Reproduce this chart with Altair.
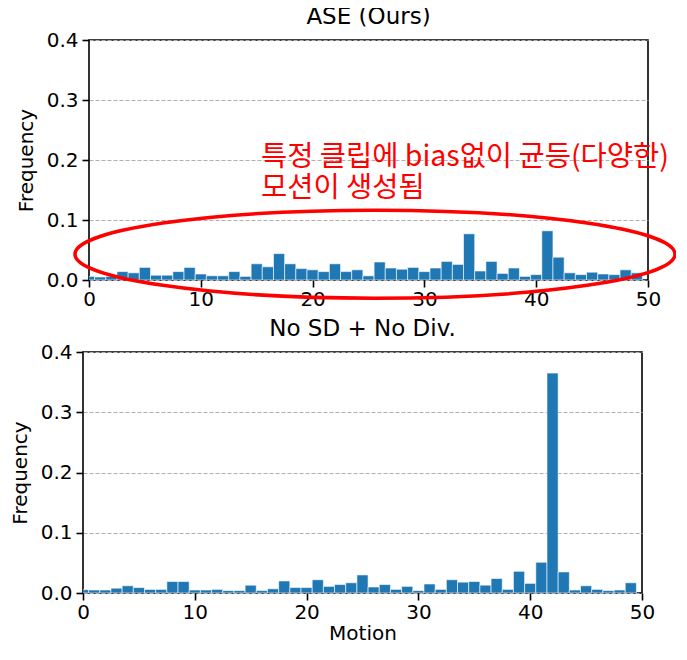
import altair as alt
import pandas as pd

# ---------------- data ----------------
motions = list(range(50))
ase_freq = [0.006, 0.005, 0.006, 0.014, 0.012, 0.021, 0.008, 0.008, 0.014, 0.021,
            0.010, 0.007, 0.007, 0.014, 0.006, 0.027, 0.022, 0.044, 0.027, 0.019,
            0.017, 0.014, 0.027, 0.014, 0.017, 0.007, 0.030, 0.020, 0.018, 0.021,
            0.014, 0.020, 0.031, 0.026, 0.077, 0.015, 0.031, 0.011, 0.020, 0.006,
            0.009, 0.082, 0.038, 0.012, 0.009, 0.013, 0.010, 0.009, 0.017, 0.012]
nosd_freq = [0.0055, 0.005, 0.005, 0.008, 0.012, 0.009, 0.006, 0.006, 0.019, 0.019,
             0.005, 0.005, 0.006, 0.004, 0.004, 0.013, 0.004, 0.007, 0.020, 0.009,
             0.009, 0.022, 0.011, 0.014, 0.017, 0.030, 0.010, 0.014, 0.006, 0.011,
             0.004, 0.015, 0.006, 0.022, 0.018, 0.019, 0.013, 0.024, 0.006, 0.036,
             0.016, 0.051, 0.365, 0.035, 0.005, 0.012, 0.006, 0.004, 0.005, 0.017]
titles = ["ASE (Ours)", "No SD + No Div."]
x_ticks = [0, 10, 20, 30, 40, 50]
y_ticks = [0.0, 0.1, 0.2, 0.3, 0.4]
annot_lines = ["특정 클립에 bias없이 균등(다양한)", "모션이 생성됨"]

FONT = "DejaVu Sans"
BLUE = "#1f77b4"
W = 559
H_TOP, H_BOT = 240, 241


def panel(freq, title, height, x_title=None, annotate=False):
    df = pd.DataFrame({"motion": motions, "freq": freq})
    df["lo"] = df["motion"] - 0.5
    df["hi"] = df["motion"] + 0.5
    xax = alt.Axis(values=x_ticks, grid=False, domain=False, tickColor="black",
                   tickWidth=1.6, tickSize=7, labelFontSize=20, labelFont=FONT,
                   labelColor="black", labelPadding=2, labelFlush=False,
                   titleFontSize=20, titleFont=FONT, titleFontWeight="normal",
                   titleColor="black", titlePadding=1)
    yax = alt.Axis(values=y_ticks, format=".1f", grid=True, gridDash=[4, 2],
                   gridColor="#b0b0b0", gridWidth=1, domain=False,
                   tickColor="black", tickWidth=1.6, tickSize=7,
                   labelFontSize=20, labelFont=FONT, labelColor="black",
                   labelPadding=4, title="Frequency", titleFontSize=20,
                   titleFont=FONT, titleFontWeight="normal", titleColor="black",
                   titlePadding=10)
    xs = alt.Scale(domain=[0, 50], nice=False, zero=False)
    ys = alt.Scale(domain=[0, 0.4], nice=False)
    bars = alt.Chart(df).mark_bar(clip=True, color=BLUE, stroke="white",
                                  strokeWidth=0.6).encode(
        x=alt.X("lo:Q", scale=xs, axis=xax,
                title=x_title if x_title else None),
        x2="hi:Q",
        y=alt.Y("freq:Q", scale=ys, axis=yax),
        y2=alt.datum(0),
    )
    layers = [bars]
    if annotate:
        ell_path = "M -1 0 A 1 0.1467 0 1 1 1 0 A 1 0.1467 0 1 1 -1 0 Z"
        ellipse = alt.Chart(df.head(1)).mark_point(
            shape=ell_path, size=600 * 600,
            filled=False, stroke="#ff0000", strokeWidth=3.5, opacity=1
        ).encode(x=alt.datum(25.58), y=alt.datum(0.043))
        t1 = alt.Chart(df.head(1)).mark_text(
            text=annot_lines[0], font="Noto Sans CJK KR", fontSize=28.5,
            color="#ff0000", align="left", baseline="middle"
        ).encode(x=alt.datum(15.38), y=alt.datum(0.205))
        t2 = alt.Chart(df.head(1)).mark_text(
            text=annot_lines[1], font="Noto Sans CJK KR", fontSize=28.5,
            color="#ff0000", align="left", baseline="middle"
        ).encode(x=alt.datum(15.38), y=alt.datum(0.153))
        layers += [ellipse, t1, t2]
    return alt.layer(*layers).properties(
        width=W, height=height,
        title=alt.TitleParams(title, fontSize=23, font=FONT, fontWeight="normal",
                              color="black", offset=1, anchor="middle"),
        view=alt.ViewBackground(stroke="black", strokeWidth=1.6),
    )


def spacer(h):
    return alt.Chart(pd.DataFrame({"v": [0]})).mark_point(size=0, opacity=0).encode(
        x=alt.value(0), y=alt.value(0)
    ).properties(width=1, height=h,
                 view=alt.ViewBackground(fill="transparent", strokeWidth=0))


top = panel(ase_freq, titles[0], H_TOP, annotate=True)
bottom = panel(nosd_freq, titles[1], H_BOT, x_title="Motion")

chart = alt.vconcat(
    alt.hconcat(spacer(H_TOP), top, spacing=6),
    alt.hconcat(spacer(H_BOT), bottom, spacing=0),
    spacing=7,
).properties(
    padding={"top": -3, "bottom": 0, "left": 0, "right": -7}
).configure_view(strokeWidth=0)

chart.save("out.html", embed_options={"renderer": "svg", "actions": False})
